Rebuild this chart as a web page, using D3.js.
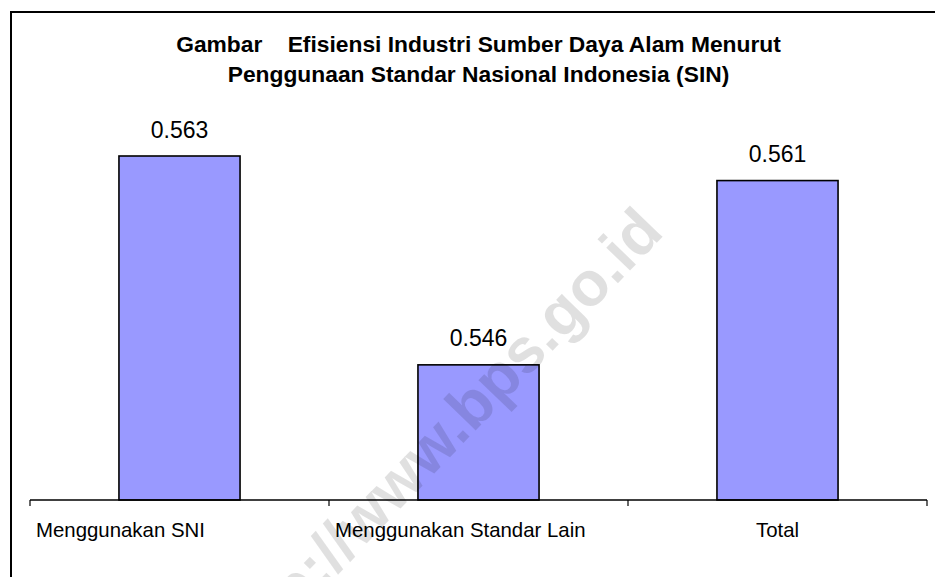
<!DOCTYPE html>
<html>
<head>
<meta charset="utf-8">
<script src="https://cdn.jsdelivr.net/npm/d3@7"></script>
<style>
  html, body { margin: 0; padding: 0; background: #fff; }
  svg { display: block; font-family: "Liberation Sans", Arial, sans-serif; }
</style>
</head>
<body>
<svg id="chart" width="935" height="577"></svg>
<script>
const categories = ["Menggunakan SNI", "Menggunakan Standar Lain", "Total"];
const values = [0.563, 0.546, 0.561];
const valueLabels = ["0.563", "0.546", "0.561"];
const titleLines = ["Gambar    Efisiensi Industri Sumber Daya Alam Menurut",
                    "Penggunaan Standar Nasional Indonesia (SIN)"];
const watermark = "http://www.bps.go.id";
const yDomain = [0.535, 0.57];

const svg = d3.select("#chart");
const plot = { left: 30, right: 927, top: 70, bottom: 500 };

// outer frame
svg.append("rect")
  .attr("x", 11).attr("y", 12)
  .attr("width", 1000).attr("height", 1000)
  .attr("fill", "none").attr("stroke", "#000").attr("stroke-width", 2);

// title
const title = svg.append("text")
  .attr("text-anchor", "middle")
  .attr("font-weight", "bold")
  .attr("font-size", 22.8)
  .style("white-space", "pre")
  .attr("xml:space", "preserve");
title.selectAll("tspan").data(titleLines).join("tspan")
  .attr("x", (plot.left + plot.right) / 2)
  .attr("y", (d, i) => 51.7 + i * 30)
  .text(d => d);

const x = d3.scaleBand().domain(categories).range([plot.left, plot.right]).padding(0);
const y = d3.scaleLinear().domain(yDomain).range([plot.bottom, plot.top]);
const barW = x.bandwidth() * 0.405;

// bars
svg.append("g").selectAll("rect").data(values).join("rect")
  .attr("x", (d, i) => x(categories[i]) + (x.bandwidth() - barW) / 2)
  .attr("y", d => y(d))
  .attr("width", barW)
  .attr("height", d => plot.bottom - y(d))
  .attr("fill", "#9999FF")
  .attr("stroke", "#000")
  .attr("stroke-width", 1.6);

// value labels
svg.append("g").selectAll("text").data(values).join("text")
  .attr("x", (d, i) => x(categories[i]) + x.bandwidth() / 2)
  .attr("y", d => y(d) - 18.5)
  .attr("text-anchor", "middle")
  .attr("font-size", 23)
  .attr("fill", "#000")
  .text((d, i) => valueLabels[i]);

// x axis
const axis = d3.axisBottom(x).tickSize(0).tickFormat("");
const gx = svg.append("g").attr("transform", `translate(0,${plot.bottom})`).call(axis);
gx.select(".domain").attr("stroke", "#000").attr("stroke-width", 1.5)
  .attr("d", `M${plot.left},0H${plot.right}`);
const edges = categories.map(c => x(c)).concat([x(categories[categories.length - 1]) + x.bandwidth()]);
gx.selectAll(".edge").data(edges).join("line").attr("class", "edge")
  .attr("x1", d => d).attr("x2", d => d)
  .attr("y1", 0).attr("y2", 6)
  .attr("stroke", "#000").attr("stroke-width", 1.2);

// category labels
const catG = svg.append("g");
catG.selectAll("text").data(categories).join("text")
  .attr("font-size", 20.4)
  .attr("fill", "#000")
  .attr("y", 536.7)
  .text(d => d)
  .each(function (d) {
    const w = this.getComputedTextLength();
    const sel = d3.select(this);
    if (w > x.bandwidth() * 0.5) {
      sel.attr("text-anchor", "start").attr("x", x(d) + 6);
    } else {
      sel.attr("text-anchor", "middle").attr("x", x(d) + x.bandwidth() / 2);
    }
  });

// watermark
svg.append("text")
  .attr("transform", "translate(453,454) rotate(-46)")
  .attr("text-anchor", "middle")
  .attr("font-weight", "bold")
  .attr("font-size", 62.5)
  .attr("fill", "#000")
  .attr("fill-opacity", 0.12)
  .text(watermark);
</script>
</body>
</html>
